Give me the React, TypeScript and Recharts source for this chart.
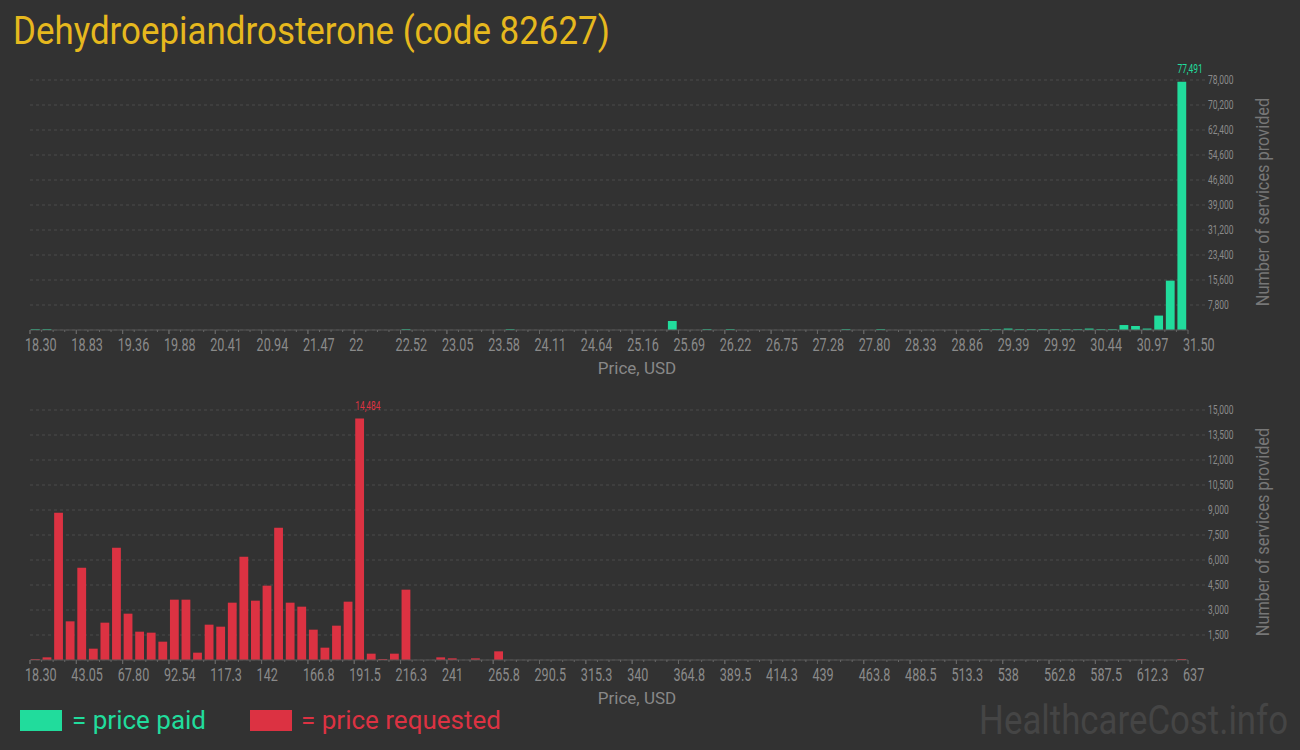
import { Bar, BarChart, CartesianGrid, LabelList, XAxis, YAxis } from 'recharts'

const BIN_COUNT = 100
const PLOT_LEFT = 30
const PLOT_W = 1158
const BW = PLOT_W / BIN_COUNT

const paidTicks = ['18.30', '18.83', '19.36', '19.88', '20.41', '20.94', '21.47', '22', '22.52', '23.05', '23.58', '24.11', '24.64', '25.16', '25.69', '26.22', '26.75', '27.28', '27.80', '28.33', '28.86', '29.39', '29.92', '30.44', '30.97', '31.50']
const requestedTicks = ['18.30', '43.05', '67.80', '92.54', '117.3', '142', '166.8', '191.5', '216.3', '241', '265.8', '290.5', '315.3', '340', '364.8', '389.5', '414.3', '439', '463.8', '488.5', '513.3', '538', '562.8', '587.5', '612.3', '637']

// bins that have services, and how many
const paidBins = [0, 1, 32, 41, 55, 58, 60, 70, 73, 82, 83, 84, 85, 86, 87, 88, 89, 90, 91, 92, 93, 94, 95, 96, 97, 98, 99]
const paidCounts = [250, 250, 250, 250, 2800, 250, 250, 250, 250, 250, 250, 450, 250, 250, 250, 250, 250, 250, 450, 250, 250, 1550, 1250, 450, 4500, 15400, 77491]

const requestedBins = [0, 1, 2, 3, 4, 5, 6, 7, 8, 9, 10, 11, 12, 13, 14, 15, 16, 17, 18, 19, 20, 21, 22, 23, 24, 25, 26, 27, 28, 29, 30, 31, 32, 35, 36, 38, 40, 99]
const requestedCounts = [60, 160, 8840, 2320, 5540, 680, 2240, 6740, 2780, 1700, 1640, 1100, 3620, 3620, 440, 2120, 2000, 3440, 6200, 3560, 4460, 7940, 3440, 3200, 1820, 740, 2060, 3500, 14484, 380, 60, 380, 4220, 160, 100, 100, 520, 60]

const paidYTicks = [7800, 15600, 23400, 31200, 39000, 46800, 54600, 62400, 70200, 78000]
const requestedYTicks = [1500, 3000, 4500, 6000, 7500, 9000, 10500, 12000, 13500, 15000]

const GREEN = '#21dc9c'
const RED = '#dc3242'
const BG = '#323232'
const FONT = "'Roboto', sans-serif"

const fmt = (v: number) => v.toLocaleString('en-US')

function makeTable(bins: number[], counts: number[]) {
  const rows = Array.from({ length: BIN_COUNT }, (_, i) => ({ bin: i, count: 0 }))
  bins.forEach((b, k) => {
    rows[b].count = counts[k]
  })
  return rows
}

// roboto squeezed sideways, the site uses a condensed face
function Narrow({ x, y, sx, size, fill, children, anchor = 'start', rotate = 0 }: any) {
  return (
    <g transform={`translate(${x},${y}) rotate(${rotate}) scale(${sx},1)`}>
      <text x={0} y={0} fill={fill} fontSize={size} fontFamily={FONT} textAnchor={anchor}>
        {children}
      </text>
    </g>
  )
}

function BinTick(props: any) {
  const { x, y, payload, labels } = props
  const i = payload.value as number
  const left = x - BW / 2
  const marks = [<line key="m" x1={left} x2={left} y1={y} y2={y + (i % 4 === 0 ? 4 : 2)} stroke="#666" />]
  const major = (pos: number, text: string, key: string) => (
    <g key={key}>
      <line x1={pos} x2={pos} y1={y} y2={y + 4} stroke="#666" />
      <Narrow x={pos - 5} y={y + 21} sx={0.7} size={18} fill="#8a8a8a">
        {text}
      </Narrow>
    </g>
  )
  if (i % 4 === 0) marks.push(major(left, labels[i / 4], 'a'))
  if (i === BIN_COUNT - 1) marks.push(major(left + BW, labels[labels.length - 1], 'b'))
  return <g>{marks}</g>
}

function CountTick({ x, y, payload }: any) {
  return (
    <Narrow x={x} y={y + 4} sx={0.68} size={12.5} fill="#8a8a8a">
      {fmt(payload.value)}
    </Narrow>
  )
}

function HistPanel({
  data,
  ticks,
  yTicks,
  color,
  top,
}: {
  data: { bin: number; count: number }[]
  ticks: string[]
  yTicks: number[]
  color: string
  top: number
}) {
  const max = Math.max(...data.map((d) => d.count))
  return (
    <div style={{ position: 'absolute', left: 0, top }}>
      <BarChart
        width={1300}
        height={380}
        data={data}
        margin={{ top: 80, right: 0, bottom: 0, left: PLOT_LEFT }}
        barGap={0}
      >
        <CartesianGrid vertical={false} stroke="#4a4a4a" strokeDasharray="3 3" />
        <XAxis
          dataKey="bin"
          interval={0}
          height={50}
          tickSize={0}
          tickMargin={0}
          tickLine={false}
          axisLine={{ stroke: '#555' }}
          tick={<BinTick labels={ticks} />}
          label={(p: any) => (
            <text x={637} y={374} fill="#888" fontSize={17} fontFamily={FONT} textAnchor="middle">
              Price, USD
            </text>
          )}
        />
        <YAxis
          orientation="right"
          width={112}
          domain={[0, yTicks[yTicks.length - 1]]}
          ticks={yTicks}
          axisLine={false}
          tickSize={17}
          tickMargin={3}
          tickLine={{ stroke: '#4a4a4a', strokeDasharray: '3 3' }}
          tick={<CountTick />}
          label={() => (
            <Narrow x={1269} y={202} sx={0.86} size={19} fill="#777" anchor="middle" rotate={-90}>
              Number of services provided
            </Narrow>
          )}
        />
        <Bar dataKey="count" fill={color} barSize={8.8} isAnimationActive={false}>
          <LabelList
            dataKey="count"
            content={(p: any) =>
              p.value === max ? (
                <Narrow x={p.x} y={p.y - 9} sx={0.7} size={12} fill={color}>
                  {fmt(Number(p.value))}
                </Narrow>
              ) : null
            }
          />
        </Bar>
      </BarChart>
    </div>
  )
}

export default function App() {
  const paid = makeTable(paidBins, paidCounts)
  const requested = makeTable(requestedBins, requestedCounts)
  return (
    <div style={{ position: 'fixed', left: 0, top: 0, width: 1300, height: 750, background: BG, overflow: 'hidden' }}>
      <HistPanel data={paid} ticks={paidTicks} yTicks={paidYTicks} color={GREEN} top={0} />
      <HistPanel data={requested} ticks={requestedTicks} yTicks={requestedYTicks} color={RED} top={330} />
      <svg width={1300} height={750} style={{ position: 'absolute', left: 0, top: 0, pointerEvents: 'none' }}>
        <Narrow x={13} y={44} sx={0.895} size={39} fill="#e6b81e">
          Dehydroepiandrosterone (code 82627)
        </Narrow>
        <rect x={20} y={710} width={42} height={21} fill={GREEN} />
        <text x={72} y={729} fill={GREEN} fontSize={26} fontFamily={FONT}>
          = price paid
        </text>
        <rect x={250} y={710} width={42} height={21} fill={RED} />
        <text x={301} y={729} fill={RED} fontSize={26} fontFamily={FONT}>
          = price requested
        </text>
        <Narrow x={1288} y={734} sx={0.87} size={40} fill="#454545" anchor="end">
          HealthcareCost.info
        </Narrow>
      </svg>
    </div>
  )
}
